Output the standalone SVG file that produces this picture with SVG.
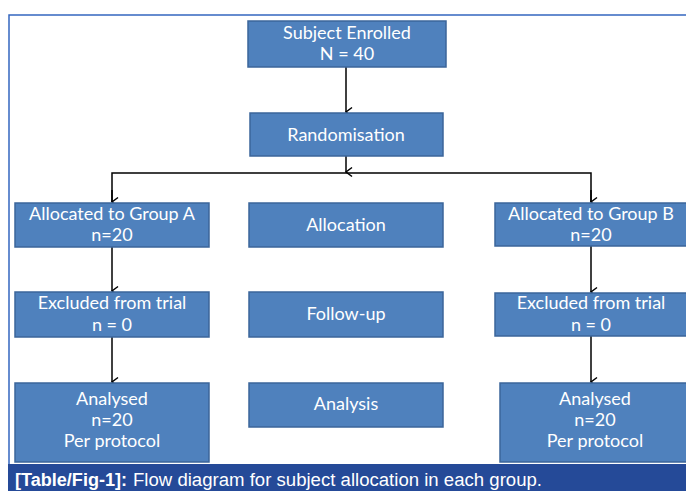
<svg xmlns="http://www.w3.org/2000/svg" width="686" height="491" viewBox="0 0 686 491">
<style>
.box{fill:#4f81bd;stroke:#3b659a;stroke-width:1.5}
.t{font-family:Lato,"Open Sans","Liberation Sans",sans-serif;font-size:18px;fill:#ffffff;text-anchor:middle}
.c{stroke:#000;stroke-width:1.5;fill:none}
.cap{font-family:"Liberation Sans",Arial,sans-serif;font-size:18px;fill:#ffffff}
</style>
<defs>
<marker id="ah" markerWidth="12" markerHeight="12" refX="6" refY="9" orient="auto" markerUnits="userSpaceOnUse" viewBox="0 0 12 12">
<path d="M1.5,3 L6,9 L10.5,3" fill="none" stroke="#000" stroke-width="1.5"/>
</marker>
</defs>
<rect x="0" y="0" width="686" height="491" fill="#ffffff"/>
<path d="M9,464 L9,15 L686,15" fill="none" stroke="#3567c0" stroke-width="1.5"/>
<rect x="8" y="464" width="678" height="27" fill="#254a98"/>
<text class="cap" x="15" y="486" font-weight="bold" textLength="112" lengthAdjust="spacingAndGlyphs">[Table/Fig-1]:</text>
<text class="cap" x="133" y="486" textLength="409" lengthAdjust="spacingAndGlyphs">Flow diagram for subject allocation in each group.</text>

<g id="connectors">
<line class="c" x1="346" y1="67" x2="346" y2="112" marker-end="url(#ah)"/>
<line class="c" x1="346" y1="156" x2="346" y2="172" marker-end="url(#ah)"/>
<polyline class="c" points="112,202 112,173 591,173 591,202"/>
<line class="c" x1="112" y1="190" x2="112" y2="202" marker-end="url(#ah)"/>
<line class="c" x1="591" y1="190" x2="591" y2="202" marker-end="url(#ah)"/>
<line class="c" x1="112" y1="247" x2="112" y2="291" marker-end="url(#ah)"/>
<line class="c" x1="591" y1="246" x2="591" y2="292" marker-end="url(#ah)"/>
<line class="c" x1="112" y1="337" x2="112" y2="382" marker-end="url(#ah)"/>
<line class="c" x1="591" y1="336" x2="591" y2="382" marker-end="url(#ah)"/>
</g>

<g id="enrolled">
<rect class="box" x="248" y="21" width="198" height="46"/>
<text class="t" x="347" y="39">Subject Enrolled</text>
<text class="t" x="347" y="60">N = 40</text>
</g>
<g id="randomisation">
<rect class="box" x="250" y="113" width="193" height="43"/>
<text class="t" x="346" y="141">Randomisation</text>
</g>
<g id="groupA">
<rect class="box" x="15" y="203" width="194" height="44"/>
<text class="t" x="112" y="220">Allocated to Group A</text>
<text class="t" x="112" y="241">n=20</text>
</g>
<g id="allocation">
<rect class="box" x="249" y="203" width="194" height="44"/>
<text class="t" x="346" y="231">Allocation</text>
</g>
<g id="groupB">
<rect class="box" x="495" y="203" width="196" height="43"/>
<text class="t" x="591" y="220">Allocated to Group B</text>
<text class="t" x="591" y="241">n=20</text>
</g>
<g id="excludedA">
<rect class="box" x="15" y="292" width="194" height="45"/>
<text class="t" x="112" y="309">Excluded from trial</text>
<text class="t" x="112" y="331">n = 0</text>
</g>
<g id="followup">
<rect class="box" x="249" y="292" width="194" height="45"/>
<text class="t" x="346" y="320">Follow-up</text>
</g>
<g id="excludedB">
<rect class="box" x="495" y="293" width="196" height="43"/>
<text class="t" x="591" y="309">Excluded from trial</text>
<text class="t" x="591" y="331">n = 0</text>
</g>
<g id="analysedA">
<rect class="box" x="15" y="383" width="194" height="79"/>
<text class="t" x="112" y="405">Analysed</text>
<text class="t" x="112" y="426">n=20</text>
<text class="t" x="112" y="447">Per protocol</text>
</g>
<g id="analysis">
<rect class="box" x="249" y="383" width="194" height="44"/>
<text class="t" x="346" y="410">Analysis</text>
</g>
<g id="analysedB">
<rect class="box" x="500" y="383" width="192" height="79"/>
<text class="t" x="595" y="405">Analysed</text>
<text class="t" x="595" y="426">n=20</text>
<text class="t" x="595" y="447">Per protocol</text>
</g>
</svg>
